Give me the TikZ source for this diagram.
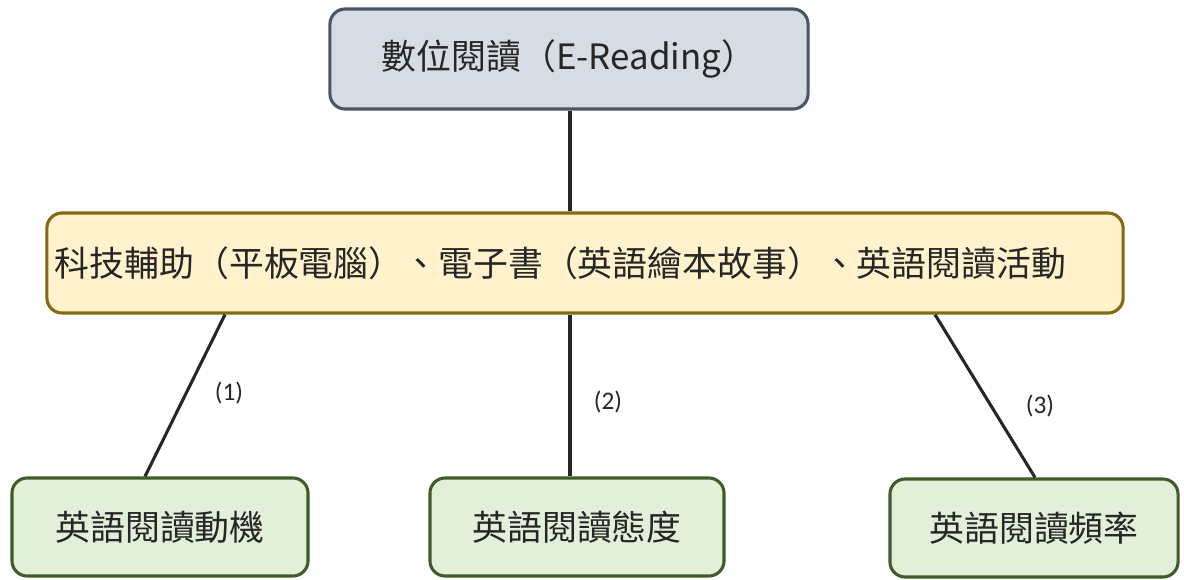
\documentclass[tikz,border=0pt]{standalone}
\usepackage{fontspec}
\setmainfont{Noto Sans CJK TC}
\newfontfamily\numfont{Carlito}
\usepackage{xcolor}
\usetikzlibrary{calc}
\definecolor{topfill}{HTML}{D6DCE4}
\definecolor{topline}{HTML}{4A5568}
\definecolor{midfill}{HTML}{FFF2CC}
\definecolor{midline}{HTML}{836A10}
\definecolor{leaffill}{HTML}{E2F0D9}
\definecolor{leafline}{HTML}{3E5C2A}
\definecolor{ink}{HTML}{262626}
\tikzset{
  box/.style={line width=2.2pt, rounded corners=0.38cm, inner sep=0pt,
    text=ink, font=\fontsize{24.8}{29}\selectfont},
  topbox/.style={box, draw=topline, fill=topfill, minimum width=11.95cm, minimum height=2.5cm},
  midbox/.style={box, draw=midline, fill=midfill, minimum width=26.9cm, minimum height=2.5cm,
    text width=26.5cm, align=left, inner xsep=0.2cm},
  leaf/.style={box, draw=leafline, fill=leaffill, minimum height=2.45cm},
  link/.style={draw=ink, line width=2.2pt},
  num/.style={text=ink, font=\numfont\fontsize{18}{20}\selectfont},
}
\begin{document}
\begin{tikzpicture}[x=0.025cm, y=-0.025cm]
  \useasboundingbox (0,0) rectangle (1184,579);
  \node[topbox] (read) at (569,59) {數位閱讀（E-Reading）};
  \node[midbox] (tool) at (585,263) {科技輔助（平板電腦）、電子書（英語繪本故事）、英語閱讀活動};
  \node[leaf, minimum width=7.4cm] (motive) at (160,527) {英語閱讀動機};
  \node[leaf, minimum width=7.35cm] (attitude) at (577,527) {英語閱讀態度};
  \node[leaf, minimum width=7.2cm] (often) at (1034,528) {英語閱讀頻率};
  % connectors
  \draw[link] (read.south -| 570,0) -- (tool.north -| 570,0);
  \coordinate (t1) at (tool.south -| 225,0);
  \coordinate (t2) at (tool.south -| 570,0);
  \coordinate (t3) at (tool.south -| 935,0);
  \draw[link] (t1) -- (motive.north -| 145,0);
  \draw[link] (t2) -- (attitude.north -| 570,0);
  \draw[link] (t3) -- (often.north -| 1035,0);
  \foreach \n/\x/\y in {1/229/393, 2/608/402, 3/1040/406}
    \node[num] (lab\n) at (\x,\y) {(\n)};
\end{tikzpicture}
\end{document}
